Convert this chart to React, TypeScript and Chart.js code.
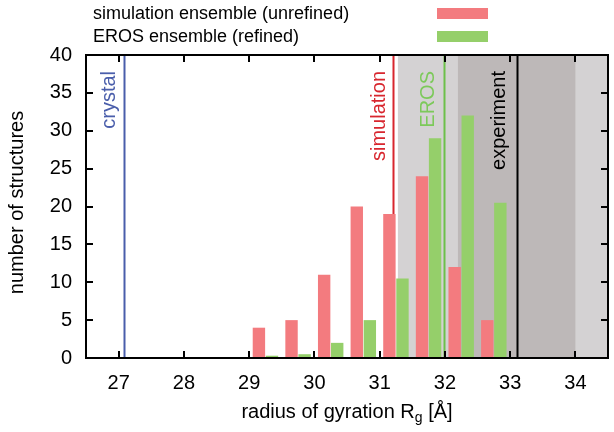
import React, { useEffect, useRef } from 'react';
import { Chart, registerables } from 'chart.js';

Chart.register(...registerables);

// ---- data ----
const binCenters = [29.25, 29.75, 30.25, 30.75, 31.25, 31.75, 32.25, 32.75];
const simulationCounts = [4, 5, 11, 20, 19, 24, 12, 5];
const erosCounts = [0.3, 0.5, 2, 5, 10.5, 29, 32, 20.5];
const xTicks = [27, 28, 29, 30, 31, 32, 33, 34];
const yTicks = [0, 5, 10, 15, 20, 25, 30, 35, 40];
const seriesLabels = ['simulation ensemble (unrefined)', 'EROS ensemble (refined)'];
const refLabels = ['crystal', 'simulation', 'EROS', 'experiment'];
const refValues = [27.08, 31.2, 31.98, 33.1];
const outerBand = [31.28, 34.5];
const innerBand = [32.2, 34.0];
const xRange = [26.5, 34.5];
const yRange = [0, 40];

// ---- styles ----
const FONT = '"Liberation Sans", Arial, Helvetica, sans-serif';
const RED = '#f37b7f';
const GREEN = '#95cf6a';
const refColors = ['#4a5eab', '#d8262e', '#6cc04a', '#000000'];
const refTextColors = ['#4a5eab', '#d8262e', '#7cc95a', '#000000'];
const refTextOffsets = [9, 8, 10, 12];

const decorPlugin = {
  id: 'decor',
  beforeDatasetsDraw(chart: any) {
    const { ctx, chartArea: a, scales } = chart;
    const xs = scales.x;
    ctx.save();
    ctx.beginPath();
    ctx.rect(a.left, a.top, a.right - a.left, a.bottom - a.top);
    ctx.clip();
    const x1 = xs.getPixelForValue(outerBand[0]);
    const x2 = xs.getPixelForValue(outerBand[1]);
    ctx.fillStyle = '#d4d2d3';
    ctx.fillRect(x1, a.top, x2 - x1, a.bottom - a.top);
    const x3 = xs.getPixelForValue(innerBand[0]);
    const x4 = xs.getPixelForValue(innerBand[1]);
    ctx.fillStyle = '#bdb8b8';
    ctx.fillRect(x3, a.top, x4 - x3, a.bottom - a.top);
    refValues.forEach((v, i) => {
      const px = Math.round(xs.getPixelForValue(v)) + 0.5;
      ctx.strokeStyle = refColors[i];
      ctx.lineWidth = 2;
      ctx.beginPath();
      ctx.moveTo(px, a.top);
      ctx.lineTo(px, a.bottom);
      ctx.stroke();
    });
    ctx.restore();
  },
  afterDatasetsDraw(chart: any) {
    const { ctx, chartArea: a, scales } = chart;
    const xs = scales.x;
    const ys = scales.y;
    ctx.save();
    ctx.font = `20px ${FONT}`;
    refValues.forEach((v, i) => {
      const px = xs.getPixelForValue(v);
      ctx.save();
      ctx.translate(px - refTextOffsets[i], a.top + 16);
      ctx.rotate(-Math.PI / 2);
      ctx.textAlign = 'right';
      ctx.textBaseline = 'alphabetic';
      ctx.fillStyle = refTextColors[i];
      ctx.fillText(refLabels[i], 0, 0);
      ctx.restore();
    });
    ctx.strokeStyle = '#000';
    ctx.lineWidth = 2;
    ctx.strokeRect(a.left, a.top, a.right - a.left, a.bottom - a.top);
    const tl = 7;
    xTicks.forEach((v) => {
      const px = Math.round(xs.getPixelForValue(v));
      ctx.beginPath();
      ctx.moveTo(px, a.bottom);
      ctx.lineTo(px, a.bottom - tl);
      ctx.moveTo(px, a.top);
      ctx.lineTo(px, a.top + tl);
      ctx.stroke();
    });
    yTicks.forEach((v) => {
      const py = Math.round(ys.getPixelForValue(v));
      ctx.beginPath();
      ctx.moveTo(a.left, py);
      ctx.lineTo(a.left + tl, py);
      ctx.moveTo(a.right, py);
      ctx.lineTo(a.right - tl, py);
      ctx.stroke();
    });
    ctx.restore();
  },
  afterDraw(chart: any) {
    const { ctx, chartArea: a } = chart;
    ctx.save();
    ctx.font = `18px ${FONT}`;
    const colors = [RED, GREEN];
    seriesLabels.forEach((lab, i) => {
      const y = 14 + i * 23;
      ctx.textAlign = 'left';
      ctx.textBaseline = 'middle';
      ctx.fillStyle = '#000';
      ctx.fillText(lab, 93, y);
      ctx.fillStyle = colors[i];
      ctx.fillRect(437, y - 6, 51, 11);
    });
    ctx.fillStyle = '#000';
    ctx.font = `20px ${FONT}`;
    ctx.save();
    ctx.translate(23, (a.top + a.bottom) / 2 - 4);
    ctx.rotate(-Math.PI / 2);
    ctx.textAlign = 'center';
    ctx.textBaseline = 'alphabetic';
    ctx.fillText('number of structures', 0, 0);
    ctx.restore();
    const p1 = 'radius of gyration R';
    const sub = 'g';
    const p2 = ' [Å]';
    ctx.font = `20px ${FONT}`;
    const w1 = ctx.measureText(p1).width;
    const w3 = ctx.measureText(p2).width;
    ctx.font = `14px ${FONT}`;
    const w2 = ctx.measureText(sub).width;
    const total = w1 + w2 + w3;
    let x = (a.left + a.right) / 2 - total / 2;
    const base = 418;
    ctx.textAlign = 'left';
    ctx.textBaseline = 'alphabetic';
    ctx.font = `20px ${FONT}`;
    ctx.fillText(p1, x, base);
    x += w1;
    ctx.font = `14px ${FONT}`;
    ctx.fillText(sub, x, base + 4);
    x += w2;
    ctx.font = `20px ${FONT}`;
    ctx.fillText(p2, x, base);
    ctx.restore();
  },
};

export default function App() {
  const ref = useRef<HTMLCanvasElement | null>(null);
  useEffect(() => {
    document.body.style.margin = '0';
    const canvas = ref.current;
    if (!canvas) return;
    const chart = new Chart(canvas, {
      type: 'bar',
      data: {
        datasets: [
          {
            label: seriesLabels[0],
            data: binCenters.map((x, i) => ({ x, y: simulationCounts[i] })),
            backgroundColor: RED,
            borderWidth: 0,
            barPercentage: 0.95,
            categoryPercentage: 0.8,
          },
          {
            label: seriesLabels[1],
            data: binCenters.map((x, i) => ({ x, y: erosCounts[i] })),
            backgroundColor: GREEN,
            borderWidth: 0,
            barPercentage: 0.95,
            categoryPercentage: 0.8,
          },
        ],
      },
      options: {
        animation: false,
        responsive: false,
        maintainAspectRatio: false,
        devicePixelRatio: 1,
        layout: { padding: { top: 55, right: 6, left: 0, bottom: 0 } },
        plugins: { legend: { display: false }, tooltip: { enabled: false }, title: { display: false } },
        scales: {
          x: {
            type: 'linear',
            offset: false,
            min: xRange[0],
            max: xRange[1],
            grid: { display: false, drawTicks: false, tickLength: 0 },
            border: { display: false },
            afterBuildTicks: (s: any) => {
              s.ticks = xTicks.map((v) => ({ value: v }));
            },
            afterFit: (s: any) => {
              s.height = 74;
            },
            ticks: {
              font: { size: 20, family: FONT },
              color: '#000',
              padding: 13,
              maxRotation: 0,
              autoSkip: false,
            },
          },
          y: {
            type: 'linear',
            min: yRange[0],
            max: yRange[1],
            grid: { display: false, drawTicks: false, tickLength: 0 },
            border: { display: false },
            afterBuildTicks: (s: any) => {
              s.ticks = yTicks.map((v) => ({ value: v }));
            },
            afterFit: (s: any) => {
              s.width = 86;
            },
            ticks: {
              font: { size: 20, family: FONT },
              color: '#000',
              padding: 14,
            },
          },
        },
      },
      plugins: [decorPlugin],
    } as any);
    return () => chart.destroy();
  }, []);
  return (
    <div style={{ position: 'absolute', left: 0, top: 0, width: 614, height: 432, background: '#fff' }}>
      <canvas ref={ref} width={614} height={432} style={{ width: 614, height: 432, display: 'block' }} />
    </div>
  );
}
